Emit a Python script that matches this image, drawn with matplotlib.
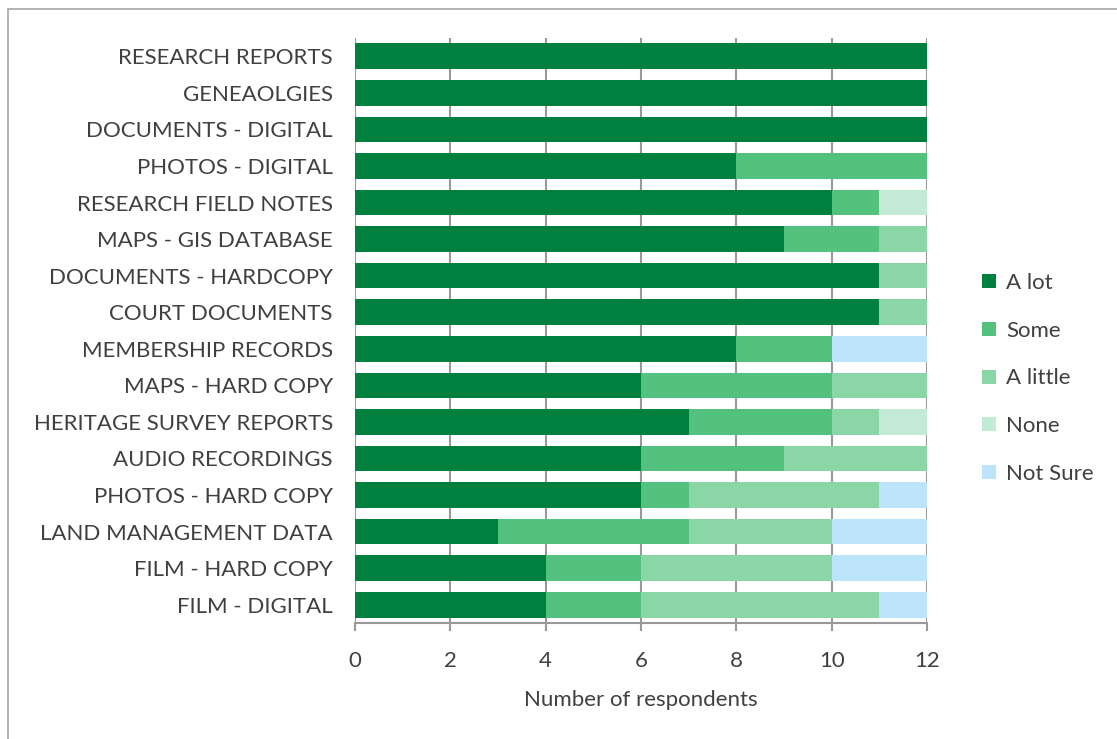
import matplotlib.pyplot as plt
from matplotlib.patches import Rectangle

plt.rcParams['font.family'] = ['Lato', 'DejaVu Sans']

# categories, top to bottom
items = ['RESEARCH REPORTS', 'GENEAOLGIES', 'DOCUMENTS - DIGITAL', 'PHOTOS - DIGITAL',
         'RESEARCH FIELD NOTES', 'MAPS - GIS DATABASE', 'DOCUMENTS - HARDCOPY',
         'COURT DOCUMENTS', 'MEMBERSHIP RECORDS', 'MAPS - HARD COPY',
         'HERITAGE SURVEY REPORTS', 'AUDIO RECORDINGS', 'PHOTOS - HARD COPY',
         'LAND MANAGEMENT DATA', 'FILM - HARD COPY', 'FILM - DIGITAL']

a_lot    = [12, 12, 12, 8, 10, 9, 11, 11, 8, 6, 7, 6, 6, 3, 4, 4]
some     = [0, 0, 0, 4, 1, 2, 0, 0, 2, 4, 3, 3, 1, 4, 2, 2]
a_little = [0, 0, 0, 0, 0, 1, 1, 1, 0, 2, 1, 3, 4, 3, 4, 5]
none     = [0, 0, 0, 0, 1, 0, 0, 0, 0, 0, 1, 0, 0, 0, 0, 0]
not_sure = [0, 0, 0, 0, 0, 0, 0, 0, 2, 0, 0, 0, 1, 2, 2, 1]

series = [('A lot', a_lot, '#00803f'), ('Some', some, '#54c27e'),
          ('A little', a_little, '#8ad6a6'), ('None', none, '#c3ead4'),
          ('Not Sure', not_sure, '#bde4fb')]

txt = '#404040'
grid = '#999999'
fs = 16

fig = plt.figure(figsize=(11.17, 7.39), dpi=100)
fig.patches.append(Rectangle((8 / 1117, -0.01), 1.2, 1 - 9 / 739 + 0.01, transform=fig.transFigure,
                             fill=False, edgecolor='#a6a6a6', linewidth=1.2))
ax = fig.add_axes([355 / 1117, 1 - 623 / 739, 572 / 1117, 585 / 739])

y = list(range(len(items)))[::-1]
left = [0] * len(items)
for name, vals, col in series:
    ax.barh(y, vals, left=left, height=0.7, color=col, label=name, zorder=3)
    left = [l + v for l, v in zip(left, vals)]

ax.set_xlim(0, 12)
ax.set_ylim(-0.5, len(items) - 0.5)
ax.set_xticks(range(0, 13, 2))
ax.set_yticks(y)
ax.set_yticklabels(items)
ax.grid(axis='x', color=grid, linewidth=1.5, zorder=0)
for s in ['top', 'right', 'left']:
    ax.spines[s].set_visible(False)
ax.spines['bottom'].set_color(grid)
ax.spines['bottom'].set_linewidth(1.5)
ax.tick_params(axis='y', length=0, pad=16, labelsize=fs, labelcolor=txt)
ax.tick_params(axis='x', length=6, width=1.5, color=grid, pad=14, labelsize=fs, labelcolor=txt)
ax.set_xlabel('Number of respondents', fontsize=fs, color=txt, labelpad=14)

leg = ax.legend(loc='center left', bbox_to_anchor=(1.062, 0.418), frameon=False,
                fontsize=fs, labelspacing=1.25, handlelength=0.6, handleheight=0.6,
                handletextpad=0.45, labelcolor=txt)

fig.savefig('out.png', dpi=100)
